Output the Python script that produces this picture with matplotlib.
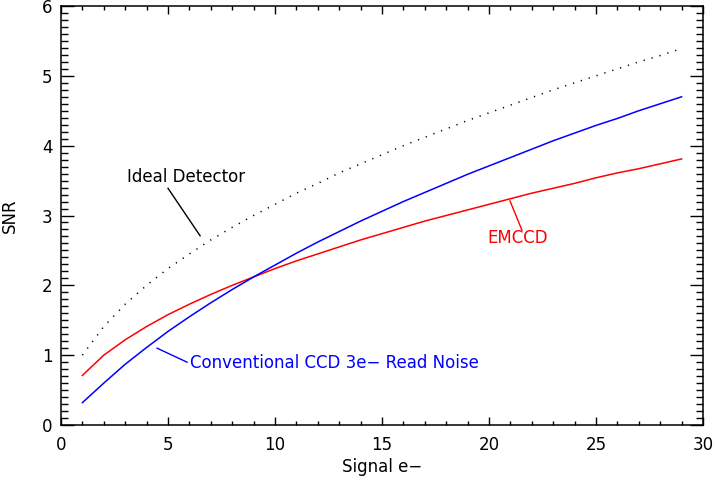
import numpy as np
import matplotlib
matplotlib.use('Agg')
import matplotlib.pyplot as plt
from matplotlib.ticker import MultipleLocator

# signal in electrons
signal = list(range(1, 30))

# SNR values
ideal = [1.00, 1.41, 1.73, 2.00, 2.24, 2.45, 2.65, 2.83, 3.00, 3.16,
         3.32, 3.46, 3.61, 3.74, 3.87, 4.00, 4.12, 4.24, 4.36, 4.47,
         4.58, 4.69, 4.80, 4.90, 5.00, 5.10, 5.20, 5.29, 5.39]
emccd = [0.71, 1.00, 1.22, 1.41, 1.58, 1.73, 1.87, 2.00, 2.12, 2.24,
         2.35, 2.45, 2.55, 2.65, 2.74, 2.83, 2.92, 3.00, 3.08, 3.16,
         3.24, 3.32, 3.39, 3.46, 3.54, 3.61, 3.67, 3.74, 3.81]
ccd = [0.32, 0.60, 0.87, 1.11, 1.34, 1.55, 1.75, 1.94, 2.12, 2.29,
       2.46, 2.62, 2.77, 2.92, 3.06, 3.20, 3.33, 3.46, 3.59, 3.71,
       3.83, 3.95, 4.07, 4.18, 4.29, 4.39, 4.50, 4.60, 4.70]

plt.rcParams['font.family'] = ['DejaVu Sans']
plt.rcParams['font.size'] = 12

fig = plt.figure(figsize=(7.15, 4.84), dpi=100)
ax = fig.add_axes([0.0853, 0.1219, 0.8979, 0.8657])

ax.plot(signal, ideal, color='black', linewidth=1.1, linestyle=(0, (0.8, 4.6)))
ax.plot(signal, emccd, color='red', linewidth=1.1)
ax.plot(signal, ccd, color='blue', linewidth=1.1)

# annotations with leader lines
ax.plot([5.0, 6.5], [3.39, 2.71], color='black', linewidth=1)
ax.text(5.84, 3.55, 'Ideal Detector', ha='center', va='center', color='black')
ax.plot([20.98, 21.54], [3.21, 2.79], color='red', linewidth=1)
ax.text(21.36, 2.68, 'EMCCD', ha='center', va='center', color='red')
ax.plot([4.49, 5.89], [1.10, 0.90], color='blue', linewidth=1)
ax.text(6.03, 0.89, 'Conventional CCD 3e\u2212 Read Noise', ha='left', va='center', color='blue')

ax.set_xlim(0, 30)
ax.set_ylim(0, 6)
ax.xaxis.set_major_locator(MultipleLocator(5))
ax.xaxis.set_minor_locator(MultipleLocator(1))
ax.yaxis.set_major_locator(MultipleLocator(1))
ax.yaxis.set_minor_locator(MultipleLocator(0.1))
ax.tick_params(axis='both', which='both', direction='in', top=True, right=True, width=1)
ax.tick_params(axis='x', which='major', length=6, pad=8)
ax.tick_params(axis='x', which='minor', length=3)
ax.tick_params(axis='y', which='major', length=9.5, pad=6)
ax.tick_params(axis='y', which='minor', length=5)
for s in ax.spines.values():
    s.set_linewidth(1.1)

ax.set_xlabel('Signal e\u2212', labelpad=3)
ax.set_ylabel('SNR')
ax.yaxis.set_label_coords(-0.066, 0.5)

fig.savefig('out.png', dpi=100)
